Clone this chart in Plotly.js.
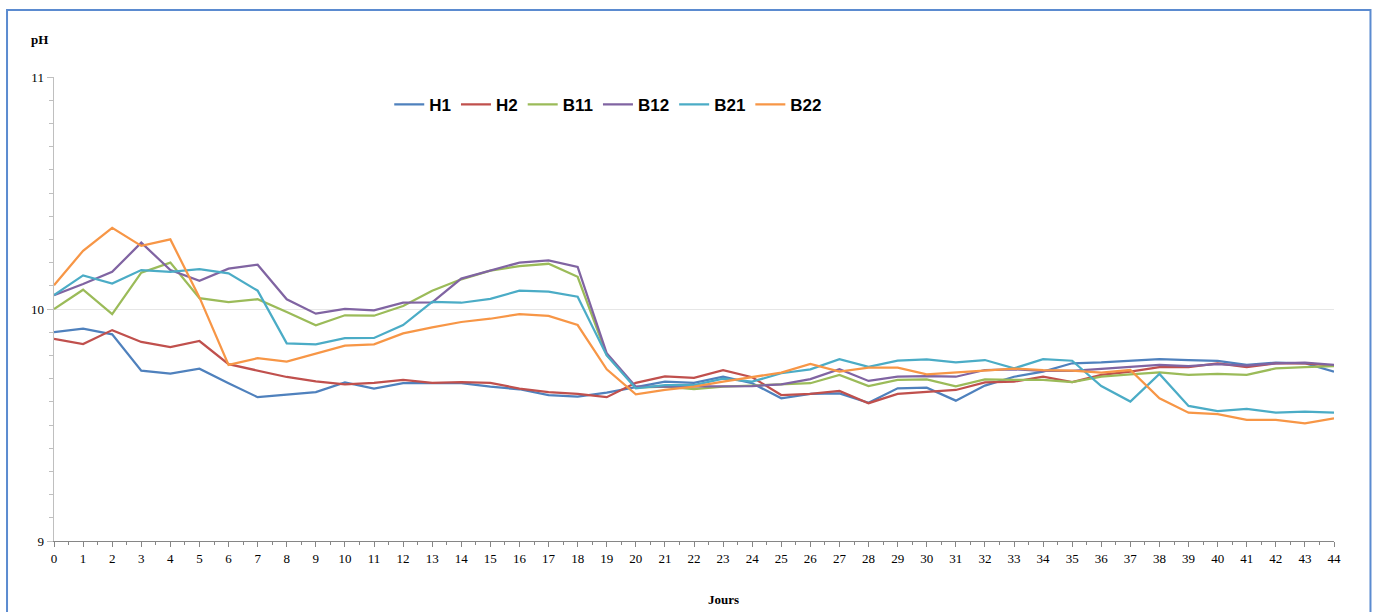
<!DOCTYPE html>
<html>
<head>
<meta charset="utf-8">
<script src="https://cdn.plot.ly/plotly-3.0.1.min.js"></script>
<style>
html,body{margin:0;padding:0;background:#fff;}
#chart{width:1376px;height:612px;}
</style>
</head>
<body>
<div id="chart"></div>
<script>
const days = [0,1,2,3,4,5,6,7,8,9,10,11,12,13,14,15,16,17,18,19,20,21,22,23,24,25,26,27,28,29,30,31,32,33,34,35,36,37,38,39,40,41,42,43,44];

const H1 = [9.90,9.915,9.891,9.734,9.721,9.743,9.68,9.62,9.631,9.642,9.684,9.657,9.68,9.68,9.68,9.665,9.654,9.629,9.622,9.64,9.663,9.687,9.682,9.708,9.68,9.615,9.634,9.636,9.596,9.658,9.661,9.605,9.67,9.708,9.73,9.766,9.77,9.777,9.784,9.78,9.776,9.759,9.769,9.766,9.73];
const H2 = [9.871,9.849,9.909,9.858,9.836,9.862,9.762,9.736,9.707,9.688,9.675,9.682,9.694,9.682,9.685,9.682,9.657,9.642,9.634,9.62,9.682,9.71,9.703,9.736,9.706,9.629,9.634,9.647,9.594,9.634,9.644,9.651,9.684,9.687,9.708,9.685,9.716,9.73,9.749,9.749,9.766,9.749,9.766,9.766,9.756];
const B11 = [10.0,10.083,9.978,10.157,10.2,10.047,10.03,10.042,9.987,9.93,9.973,9.971,10.013,10.079,10.128,10.165,10.185,10.195,10.139,9.802,9.661,9.665,9.655,9.665,9.67,9.675,9.68,9.716,9.668,9.694,9.697,9.667,9.697,9.694,9.694,9.685,9.708,9.718,9.727,9.716,9.72,9.716,9.744,9.749,9.754];
const B12 = [10.06,10.108,10.16,10.286,10.168,10.122,10.174,10.191,10.042,9.98,10.0,9.994,10.027,10.029,10.131,10.165,10.2,10.21,10.181,9.809,9.665,9.665,9.665,9.668,9.668,9.675,9.698,9.741,9.69,9.708,9.711,9.708,9.737,9.74,9.733,9.733,9.741,9.751,9.759,9.754,9.762,9.756,9.766,9.769,9.759];
const B21 = [10.06,10.145,10.11,10.168,10.16,10.172,10.154,10.079,9.852,9.848,9.874,9.875,9.931,10.031,10.027,10.044,10.079,10.075,10.053,9.80,9.658,9.672,9.672,9.70,9.687,9.723,9.74,9.784,9.751,9.777,9.783,9.77,9.78,9.744,9.784,9.777,9.668,9.601,9.72,9.582,9.56,9.569,9.553,9.558,9.553];
const B22 = [10.102,10.251,10.35,10.272,10.30,10.05,9.759,9.788,9.773,9.809,9.842,9.848,9.895,9.921,9.944,9.958,9.978,9.97,9.931,9.74,9.632,9.651,9.665,9.687,9.706,9.726,9.763,9.73,9.747,9.747,9.718,9.727,9.737,9.743,9.737,9.734,9.726,9.737,9.615,9.553,9.547,9.522,9.522,9.507,9.529];

const seriesNames = ['H1','H2','B11','B12','B21','B22'];
const seriesData = [H1,H2,B11,B12,B21,B22];
const colors = ['#4F81BD','#C0504D','#9BBB59','#8064A2','#4BACC6','#F79646'];

const traces = seriesNames.map((n,i)=>({
  x: days, y: seriesData[i], name: n, type:'scatter', mode:'lines',
  line:{color:colors[i], width:2.25}
}));

const serif = '"Liberation Serif","Times New Roman",serif';

const layout = {
  width:1376, height:612,
  margin:{l:54, r:42, t:77, b:71},
  paper_bgcolor:'#fff', plot_bgcolor:'#fff',
  showlegend:true,
  legend:{orientation:'h', x:0.433, xanchor:'center', y:0.94, yanchor:'middle',
    font:{family:'"Liberation Sans",Arial,sans-serif', size:17, color:'#000', weight:'bold'},
    bgcolor:'rgba(0,0,0,0)', tracegroupgap:0, itemwidth:30},
  xaxis:{range:[0,44], dtick:1, tick0:0, showgrid:false, zeroline:false,
    showline:true, linecolor:'#868686', linewidth:1,
    ticks:'outside', ticklen:5, tickcolor:'#868686',
    minor:{dtick:0.5, ticks:'outside', ticklen:3, tickcolor:'#868686', showgrid:false},
    tickfont:{family:serif, size:13, color:'#000'}, fixedrange:true},
  yaxis:{range:[9,11], dtick:1, tick0:9, showgrid:true, gridcolor:'#e6e6e6', gridwidth:1,
    zeroline:false, showline:true, linecolor:'#bfbfbf', linewidth:1.5,
    ticks:'outside', ticklen:6, tickcolor:'#bfbfbf',
    minor:{dtick:0.1, ticks:'outside', ticklen:4, tickcolor:'#bfbfbf', showgrid:false},
    tickfont:{family:serif, size:13, color:'#000'}, fixedrange:true},
  annotations:[
    {text:'<b>pH</b>', xref:'paper', yref:'paper', x:-0.011, y:1.08, xanchor:'center', yanchor:'middle',
     showarrow:false, font:{family:serif, size:13, color:'#000'}},
    {text:'<b>Jours</b>', xref:'paper', yref:'paper', x:0.523, y:-0.125, xanchor:'center', yanchor:'middle',
     showarrow:false, font:{family:serif, size:13, color:'#000'}}
  ],
  shapes:[
    {type:'rect', xref:'paper', yref:'paper', x0:-0.0367, x1:1.0285, y0:-0.2, y1:1.1444,
     line:{color:'#5B8BD0', width:2}, fillcolor:'rgba(0,0,0,0)', layer:'below'}
  ]
};

Plotly.newPlot('chart', traces, layout, {displayModeBar:false, staticPlot:true});
</script>
</body>
</html>
